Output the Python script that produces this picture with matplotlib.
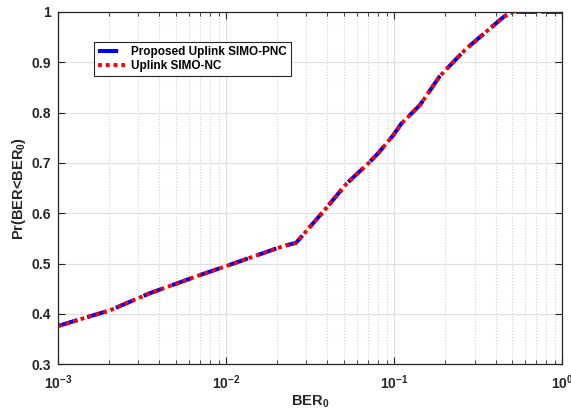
import numpy as np
import matplotlib.pyplot as plt
from matplotlib.ticker import LogLocator, NullFormatter

## Style: bold sans text, MATLAB-like axes
plt.rcParams['font.family'] = ['Liberation Sans', 'DejaVu Sans']
plt.rcParams['font.weight'] = 'bold'
plt.rcParams['mathtext.fontset'] = 'custom'
plt.rcParams['mathtext.rm'] = 'Liberation Sans:bold'
plt.rcParams['mathtext.bf'] = 'Liberation Sans:bold'
plt.rcParams['mathtext.it'] = 'Liberation Sans:bold'
plt.rcParams['mathtext.default'] = 'bf'

## Data (CDF of BER)
ber = [0.001, 0.00203, 0.00351, 0.00697, 0.01, 0.0199, 0.022, 0.026,
       0.0377, 0.052, 0.070, 0.080, 0.0985, 0.110, 0.142, 0.186,
       0.262, 0.370, 0.45, 0.51, 0.6, 0.8, 1.0]
cdf = [0.376, 0.407, 0.441, 0.477, 0.495, 0.530, 0.535, 0.541,
       0.603, 0.659, 0.699, 0.719, 0.755, 0.778, 0.815, 0.872,
       0.924, 0.967, 0.991, 1.0, 1.0, 1.0, 1.0]

labels = ['Proposed Uplink SIMO-PNC', 'Uplink SIMO-NC']
axis_col = '#262626'

fig = plt.figure(figsize=(5.71, 4.11), dpi=100)
ax = fig.add_axes([0.102, 0.114, 0.883, 0.857])

ax.plot(ber, cdf, color='blue', linewidth=2.9, linestyle=(0, (5, 2.5)),
        dash_capstyle='butt', label=labels[0])
ax.plot(ber, cdf, color='red', linewidth=2.8, linestyle=(0, (1, 1)),
        dash_capstyle='butt', label=labels[1])

ax.set_xscale('log')
ax.set_xlim(1e-3, 1)
ax.set_ylim(0.3, 1)
ax.set_yticks(np.arange(0.3, 1.01, 0.1))
ax.set_yticklabels(['0.3', '0.4', '0.5', '0.6', '0.7', '0.8', '0.9', '1'])
ax.xaxis.set_minor_locator(LogLocator(base=10, subs=np.arange(2, 10), numticks=20))
ax.xaxis.set_minor_formatter(NullFormatter())

ax.grid(True, which='major', color='#e0e0e0', linewidth=0.9)
ax.grid(True, which='minor', axis='x', color='#d0d0d0', linestyle=':', linewidth=0.8)
ax.set_axisbelow(True)

ax.tick_params(which='both', direction='in', top=True, right=True,
               colors=axis_col, labelsize=10)
ax.tick_params(which='major', length=5)
ax.tick_params(which='minor', length=3)
ax.tick_params(axis='x', which='major', pad=7)
ax.tick_params(axis='y', which='major', pad=5)
for sp in ax.spines.values():
    sp.set_color(axis_col)
    sp.set_linewidth(0.9)

ax.set_xlabel(r'BER$_0$', fontsize=10.5, fontweight='bold', color=axis_col, labelpad=1)
ax.set_ylabel(r'Pr(BER<BER$_0$)', fontsize=10.5, fontweight='bold', color=axis_col, labelpad=3)

leg = ax.legend(loc='upper left', bbox_to_anchor=(0.071, 0.915), fontsize=8.5,
                handlelength=2.3, handletextpad=0.5, borderpad=0.35,
                borderaxespad=0, labelspacing=0.2, fancybox=False, framealpha=1)
leg.get_frame().set_edgecolor(axis_col)
leg.get_frame().set_linewidth(0.8)

fig.savefig('out.png', dpi=100)
